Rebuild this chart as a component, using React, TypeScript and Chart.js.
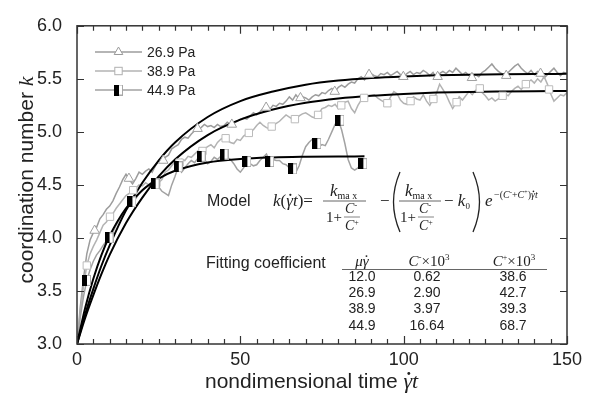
import React, { useEffect, useRef } from 'react';
import { Chart, registerables } from 'chart.js';

Chart.register(...registerables);

const SANS = '"Liberation Sans", Arial, Helvetica, sans-serif';
const SERIF = '"Liberation Serif", "Times New Roman", Times, serif';
const INK = '#222222';

const LEGEND_LABELS = ['26.9 Pa', '38.9 Pa', '44.9 Pa'];
const X_TITLE = 'nondimensional time ';
const Y_TITLE = 'coordination number ';

// time samples (nondimensional time) for the simulated series
const TIME = Array.from({ length: 151 }, (_, i) => i);
const TIME_449 = Array.from({ length: 89 }, (_, i) => i);

// 26.9 Pa series
const K_269 = [
  3.00, 3.35, 3.62, 3.85, 3.98, 4.05, 4.10, 4.18, 4.22, 4.27,
  4.30, 4.35, 4.42, 4.48, 4.55, 4.60, 4.55, 4.51, 4.56, 4.62,
  4.60, 4.63, 4.65, 4.62, 4.68, 4.73, 4.72, 4.76, 4.78, 4.84,
  4.86, 4.88, 4.93, 4.95, 4.94, 4.98, 5.01, 5.03, 5.04, 5.07,
  5.05, 5.06, 5.04, 5.07, 5.05, 5.06, 5.09, 5.07, 5.08, 5.10,
  5.12, 5.13, 5.12, 5.15, 5.18, 5.16, 5.19, 5.22, 5.23, 5.21,
  5.25, 5.24, 5.27, 5.26, 5.29, 5.33, 5.30, 5.35, 5.31, 5.33,
  5.32, 5.30, 5.33, 5.35, 5.34, 5.37, 5.36, 5.39, 5.41, 5.38,
  5.42, 5.44, 5.42, 5.45, 5.47, 5.46, 5.50, 5.52, 5.49, 5.53,
  5.55, 5.53, 5.52, 5.55, 5.54, 5.56, 5.53, 5.55, 5.57, 5.54,
  5.52, 5.55, 5.57, 5.54, 5.56, 5.55, 5.58, 5.56, 5.53, 5.56,
  5.51, 5.55, 5.57, 5.55, 5.58, 5.56, 5.60, 5.57, 5.54, 5.56,
  5.53, 5.51, 5.54, 5.52, 5.56, 5.58, 5.61, 5.64, 5.60, 5.57,
  5.55, 5.52, 5.56, 5.59, 5.62, 5.64, 5.60, 5.57, 5.55, 5.58,
  5.54, 5.57, 5.55, 5.51, 5.54, 5.57, 5.60, 5.56, 5.53, 5.56,
  5.55,
];

// 38.9 Pa series
const K_389 = [
  3.00, 3.30, 3.55, 3.74, 3.85, 3.92, 3.98, 4.05, 4.12, 4.15,
  4.20, 4.23, 4.28, 4.32, 4.36, 4.40, 4.42, 4.45, 4.47, 4.50,
  4.49, 4.52, 4.50, 4.53, 4.52, 4.52, 4.55, 4.62, 4.64, 4.68,
  4.72, 4.70, 4.74, 4.73, 4.77, 4.76, 4.79, 4.82, 4.80, 4.84,
  4.86, 4.88, 4.85, 4.90, 4.93, 4.95, 4.92, 4.90, 4.89, 4.93,
  4.92, 4.96, 4.98, 5.00, 5.02, 5.06, 5.09, 5.06, 5.04, 5.03,
  5.06, 5.08, 5.10, 5.13, 5.16, 5.14, 5.12, 5.12, 5.15, 5.17,
  5.18, 5.16, 5.14, 5.13, 5.17, 5.22, 5.23, 5.25, 5.24, 5.26,
  5.22, 5.25, 5.28, 5.29, 5.22, 5.18, 5.25, 5.30, 5.32, 5.33,
  5.34, 5.35, 5.32, 5.30, 5.28, 5.27, 5.33, 5.38, 5.36, 5.30,
  5.27, 5.26, 5.29, 5.33, 5.31, 5.30, 5.35, 5.29, 5.25, 5.31,
  5.36, 5.45, 5.40, 5.35, 5.28, 5.22, 5.27, 5.33, 5.30, 5.34,
  5.38, 5.35, 5.39, 5.42, 5.37, 5.34, 5.30, 5.32, 5.29, 5.31,
  5.33, 5.36, 5.34, 5.38, 5.41, 5.43, 5.40, 5.44, 5.47, 5.49,
  5.46, 5.50, 5.47, 5.52, 5.45, 5.36, 5.29, 5.32, 5.35, 5.34,
  5.37,
];

// 44.9 Pa series
const K_449 = [
  3.00, 3.25, 3.45, 3.60, 3.70, 3.78, 3.84, 3.88, 3.93, 3.97,
  4.00, 4.06, 4.12, 4.17, 4.22, 4.26, 4.30, 4.33, 4.37, 4.42,
  4.45, 4.48, 4.50, 4.48, 4.52, 4.48, 4.44, 4.42, 4.40, 4.50,
  4.58, 4.67, 4.62, 4.66, 4.70, 4.73, 4.71, 4.75, 4.77, 4.74,
  4.70, 4.72, 4.76, 4.74, 4.77, 4.79, 4.76, 4.74, 4.70, 4.65,
  4.62, 4.66, 4.72, 4.70, 4.68, 4.69, 4.73, 4.76, 4.79, 4.72,
  4.74, 4.73, 4.73, 4.70, 4.69, 4.66, 4.65, 4.62, 4.68, 4.78,
  4.86, 4.90, 4.93, 4.89, 4.86, 4.88, 4.87, 4.93, 5.00, 5.07,
  5.11, 5.02, 4.89, 4.74, 4.66, 4.64, 4.66, 4.70, 4.68,
];

// marker positions
const MARK_269_X = [5.4, 15.9, 26.4, 36.9, 47.4, 57.9, 68.4, 78.9, 89.4, 99.9, 110.4, 120.9, 131.4, 141.9];
const MARK_269_Y = [4.07, 4.56, 4.73, 5.03, 5.07, 5.23, 5.32, 5.38, 5.54, 5.52, 5.52, 5.51, 5.53, 5.55];
const MARK_389_X = [3, 10.1, 17.2, 24.3, 31.4, 38.4, 45.5, 52.6, 59.6, 66.7, 73.8, 80.9, 87.9, 95, 102.1, 109.1, 116.2, 123.3, 130.3, 137.4, 144.5];
const MARK_389_Y = [3.74, 4.20, 4.45, 4.52, 4.71, 4.82, 4.94, 4.99, 5.05, 5.12, 5.16, 5.25, 5.32, 5.27, 5.29, 5.31, 5.28, 5.41, 5.34, 5.45, 5.40];
const MARK_449_X = [2.9, 9.8, 16.8, 23.9, 31, 38, 45, 52, 59, 66, 73.4, 80.5, 87.5];
const MARK_449_Y = [3.60, 4.00, 4.34, 4.51, 4.67, 4.77, 4.79, 4.72, 4.72, 4.65, 4.89, 5.11, 4.70];

// model fit curves
const FIT_X = [0, 2.5, 5, 7.5, 10, 15, 20, 25, 30, 40, 50, 60, 70, 80, 90, 100, 110, 120, 130, 140, 150];
const FIT_269 = [3.0, 3.28, 3.52, 3.74, 3.93, 4.26, 4.52, 4.73, 4.90, 5.14, 5.29, 5.38, 5.445, 5.484, 5.508, 5.523, 5.533, 5.539, 5.543, 5.546, 5.547];
const FIT_389 = [3.0, 3.245, 3.46, 3.66, 3.84, 4.14, 4.38, 4.58, 4.74, 4.97, 5.115, 5.21, 5.274, 5.315, 5.341, 5.358, 5.37, 5.377, 5.381, 5.384, 5.386];
const FIT_X_449 = [0, 2.5, 5, 7.5, 10, 15, 20, 25, 30, 40, 50, 60, 70, 80, 88];
const FIT_449 = [3.0, 3.34, 3.615, 3.84, 4.02, 4.28, 4.45, 4.56, 4.633, 4.712, 4.745, 4.759, 4.765, 4.768, 4.769];

// fitting coefficient table
const TABLE_MU = ['12.0', '26.9', '38.9', '44.9'];
const TABLE_CM = ['0.62', '2.90', '3.97', '16.64'];
const TABLE_CP = ['38.6', '42.7', '39.3', '68.7'];

const C_269 = '#9c9c9c';
const C_389 = '#b3b3b3';
const C_449 = '#a2a2a2';

type Run = { t: string; f: string; dy?: number; dot?: boolean };

function fontSize(f: string): number {
  const m = f.match(/(\d+(\.\d+)?)px/);
  return m ? parseFloat(m[1]) : 12;
}

function runsWidth(ctx: CanvasRenderingContext2D, runs: Run[]): number {
  let w = 0;
  for (const r of runs) {
    ctx.font = r.f;
    w += ctx.measureText(r.t).width;
  }
  return w;
}

function drawRuns(ctx: CanvasRenderingContext2D, x: number, y: number, runs: Run[]): number {
  for (const r of runs) {
    ctx.font = r.f;
    const w = ctx.measureText(r.t).width;
    const yy = y + (r.dy || 0);
    ctx.fillText(r.t, x, yy);
    if (r.dot) {
      const fs = fontSize(r.f);
      ctx.beginPath();
      ctx.arc(x + w * 0.62, yy - fs * 0.66, Math.max(0.8, fs * 0.065), 0, Math.PI * 2);
      ctx.fill();
    }
    x += w;
  }
  return x;
}

function hline(ctx: CanvasRenderingContext2D, x1: number, x2: number, y: number) {
  ctx.beginPath();
  ctx.moveTo(x1, y);
  ctx.lineTo(x2, y);
  ctx.stroke();
}

function makeHalfSquare(): HTMLCanvasElement {
  const c = document.createElement('canvas');
  c.width = 9;
  c.height = 11;
  const g = c.getContext('2d')!;
  g.fillStyle = '#ffffff';
  g.fillRect(0, 0, 9, 11);
  g.strokeStyle = '#a8a8a8';
  g.lineWidth = 1;
  g.strokeRect(0.5, 0.5, 8, 10);
  g.fillStyle = '#000000';
  g.fillRect(0, 0, 5, 11);
  return c;
}

function drawTriangle(ctx: CanvasRenderingContext2D, x: number, y: number, r: number, stroke: string) {
  ctx.beginPath();
  ctx.moveTo(x, y - r);
  ctx.lineTo(x + r * 0.866, y + r * 0.5);
  ctx.lineTo(x - r * 0.866, y + r * 0.5);
  ctx.closePath();
  ctx.fillStyle = '#fff';
  ctx.fill();
  ctx.strokeStyle = stroke;
  ctx.lineWidth = 1;
  ctx.stroke();
}

function drawSquare(ctx: CanvasRenderingContext2D, x: number, y: number, h: number, stroke: string) {
  ctx.fillStyle = '#fff';
  ctx.fillRect(x - h, y - h, 2 * h, 2 * h);
  ctx.strokeStyle = stroke;
  ctx.lineWidth = 1;
  ctx.strokeRect(x - h, y - h, 2 * h, 2 * h);
}

function makeAnnotPlugin(half: HTMLCanvasElement) {
  return {
    id: 'annot',
    afterDraw(chart: any) {
      const ctx: CanvasRenderingContext2D = chart.ctx;
      const a = chart.chartArea;
      const xs = chart.scales.x;
      const ys = chart.scales.y;
      ctx.save();

      // frame
      ctx.strokeStyle = '#333';
      ctx.lineWidth = 1.5;
      ctx.strokeRect(a.left, a.top, a.right - a.left, a.bottom - a.top);

      // inward ticks
      ctx.lineWidth = 1.2;
      for (let i = 0; i <= 30; i++) {
        const v = i * 5;
        const px = Math.round(xs.getPixelForValue(v)) + 0.5;
        const len = v % 50 === 0 ? 8 : 5;
        ctx.beginPath();
        ctx.moveTo(px, a.bottom);
        ctx.lineTo(px, a.bottom - len);
        ctx.moveTo(px, a.top);
        ctx.lineTo(px, a.top + len);
        ctx.stroke();
      }
      for (let i = 0; i <= 6; i++) {
        const v = 3 + i * 0.5;
        const py = Math.round(ys.getPixelForValue(v)) + 0.5;
        ctx.beginPath();
        ctx.moveTo(a.left, py);
        ctx.lineTo(a.left + 7, py);
        ctx.moveTo(a.right, py);
        ctx.lineTo(a.right - 7, py);
        ctx.stroke();
      }

      // legend
      const rows = [52, 71, 90];
      const cols = [C_269, C_389, C_449];
      ctx.lineWidth = 1.5;
      for (let i = 0; i < 3; i++) {
        ctx.strokeStyle = cols[i];
        hline(ctx, 95, 142, rows[i]);
      }
      drawTriangle(ctx, 118.5, rows[0], 5, '#9a9a9a');
      drawSquare(ctx, 118.5, rows[1], 3.7, '#b0b0b0');
      ctx.drawImage(half, 118.5 - 4.5, rows[2] - 5.5);
      ctx.fillStyle = INK;
      ctx.font = `14px ${SANS}`;
      ctx.textAlign = 'left';
      ctx.textBaseline = 'middle';
      for (let i = 0; i < 3; i++) ctx.fillText(LEGEND_LABELS[i], 147, rows[i] + 1);

      ctx.textBaseline = 'alphabetic';
      ctx.fillStyle = INK;
      ctx.strokeStyle = INK;

      // axis titles
      const xt: Run[] = [
        { t: X_TITLE, f: `21px ${SANS}` },
        { t: 'γ', f: `italic 22px ${SERIF}`, dot: true },
        { t: 't', f: `italic 22px ${SERIF}` },
      ];
      drawRuns(ctx, 205, 388, xt);

      const yt: Run[] = [
        { t: Y_TITLE, f: `21px ${SANS}` },
        { t: 'k', f: `italic 22px ${SERIF}` },
      ];
      ctx.save();
      ctx.translate(33, 180);
      ctx.rotate(-Math.PI / 2);
      drawRuns(ctx, -runsWidth(ctx, yt) / 2, 0, yt);
      ctx.restore();

      // Model formula
      ctx.font = `16px ${SANS}`;
      ctx.fillText('Model', 207, 206);
      const it17 = `italic 17px ${SERIF}`;
      const up17 = `17px ${SERIF}`;
      drawRuns(ctx, 273, 206, [
        { t: 'k', f: it17 },
        { t: '(', f: up17 },
        { t: 'γ', f: it17, dot: true },
        { t: 't', f: it17 },
        { t: ')=', f: up17 },
      ]);

      const kmax = (x: number) =>
        drawRuns(ctx, x, 196, [
          { t: 'k', f: it17 },
          { t: 'ma x', f: `10px ${SERIF}`, dy: 3 },
        ]);
      const denom = (x: number) => {
        const x2 = drawRuns(ctx, x, 222, [{ t: '1+', f: `15px ${SERIF}` }]);
        const cx = x2 + 3;
        drawRuns(ctx, cx, 213, [
          { t: 'C', f: `italic 14px ${SERIF}` },
          { t: '-', f: `9px ${SERIF}`, dy: -5 },
        ]);
        drawRuns(ctx, cx, 230, [
          { t: 'C', f: `italic 14px ${SERIF}` },
          { t: '+', f: `8px ${SERIF}`, dy: -5 },
        ]);
        ctx.lineWidth = 0.8;
        ctx.strokeStyle = '#666';
        hline(ctx, cx - 1, cx + 15, 217);
      };

      // first fraction
      kmax(330);
      ctx.lineWidth = 0.9;
      ctx.strokeStyle = '#555';
      hline(ctx, 323, 366, 201);
      denom(326);

      ctx.font = up17;
      ctx.fillText('−', 380, 206);

      // parentheses
      ctx.strokeStyle = '#222';
      ctx.lineWidth = 1.3;
      ctx.beginPath();
      ctx.moveTo(400, 172);
      ctx.quadraticCurveTo(387, 202, 400, 232);
      ctx.stroke();
      ctx.beginPath();
      ctx.moveTo(473, 172);
      ctx.quadraticCurveTo(486, 202, 473, 232);
      ctx.stroke();

      // inner fraction
      kmax(405);
      ctx.lineWidth = 0.9;
      ctx.strokeStyle = '#555';
      hline(ctx, 399, 441, 201);
      denom(400);

      drawRuns(ctx, 444, 206, [
        { t: '−', f: up17 },
        { t: ' k', f: it17 },
        { t: '0', f: `9px ${SERIF}`, dy: 3 },
      ]);

      // exponential
      drawRuns(ctx, 485, 206, [{ t: 'e', f: it17 }]);
      const it10 = `italic 10px ${SERIF}`;
      const up10 = `10px ${SERIF}`;
      drawRuns(ctx, 494, 198, [
        { t: '−(', f: up10 },
        { t: 'C', f: it10 },
        { t: '-', f: `7px ${SERIF}`, dy: -4 },
        { t: '+', f: up10 },
        { t: 'C', f: it10 },
        { t: '+', f: `6px ${SERIF}`, dy: -4 },
        { t: ')', f: up10 },
        { t: 'γ', f: it10, dot: true },
        { t: 't', f: it10 },
      ]);

      // Fitting coefficient table
      ctx.font = `16px ${SANS}`;
      ctx.fillText('Fitting coefficient', 206, 268);

      const it15 = `italic 15px ${SERIF}`;
      const up15 = `15px ${SERIF}`;
      const h1: Run[] = [
        { t: 'μ', f: it15 },
        { t: 'γ', f: it15, dot: true },
      ];
      drawRuns(ctx, 362 - runsWidth(ctx, h1) / 2, 266, h1);
      const h2: Run[] = [
        { t: 'C', f: it15 },
        { t: '-', f: `9px ${SERIF}`, dy: -6 },
        { t: '×10', f: up15 },
        { t: '3', f: `9px ${SERIF}`, dy: -6 },
      ];
      drawRuns(ctx, 429 - runsWidth(ctx, h2) / 2, 266, h2);
      const h3: Run[] = [
        { t: 'C', f: it15 },
        { t: '+', f: `8px ${SERIF}`, dy: -6 },
        { t: '×10', f: up15 },
        { t: '3', f: `9px ${SERIF}`, dy: -6 },
      ];
      drawRuns(ctx, 514 - runsWidth(ctx, h3) / 2, 266, h3);

      ctx.strokeStyle = '#666';
      ctx.lineWidth = 1;
      hline(ctx, 342, 547, 269.5);

      ctx.font = `14px ${SANS}`;
      ctx.textAlign = 'center';
      ctx.textBaseline = 'middle';
      ctx.fillStyle = INK;
      const rowY = [277, 293, 309, 326];
      for (let i = 0; i < TABLE_MU.length; i++) {
        ctx.fillText(TABLE_MU[i], 362, rowY[i]);
        ctx.fillText(TABLE_CM[i], 427, rowY[i]);
        ctx.fillText(TABLE_CP[i], 513, rowY[i]);
      }

      ctx.restore();
    },
  };
}

export default function App() {
  const ref = useRef<HTMLCanvasElement | null>(null);

  useEffect(() => {
    document.body.style.margin = '0';
    const canvas = ref.current;
    if (!canvas) return;
    const half = makeHalfSquare();
    const pts = (xs: number[], ys: number[]) => xs.map((x, i) => ({ x, y: ys[i] }));

    const chart = new Chart(canvas, {
      type: 'line',
      data: {
        datasets: [
          {
            data: pts(MARK_449_X, MARK_449_Y),
            showLine: false,
            pointStyle: half as any,
            pointRadius: 5,
            borderColor: '#000',
            backgroundColor: '#000',
          },
          {
            data: pts(MARK_269_X, MARK_269_Y),
            showLine: false,
            pointStyle: 'triangle',
            pointRadius: 5.5,
            pointBackgroundColor: '#ffffff',
            pointBorderColor: '#a0a0a0',
            pointBorderWidth: 1,
          },
          {
            data: pts(MARK_389_X, MARK_389_Y),
            showLine: false,
            pointStyle: 'rect',
            pointRadius: 5.2,
            pointBackgroundColor: '#ffffff',
            pointBorderColor: '#bbbbbb',
            pointBorderWidth: 1,
          },
          {
            data: pts(FIT_X_449, FIT_449),
            borderColor: '#000',
            borderWidth: 2,
            pointRadius: 0,
            cubicInterpolationMode: 'monotone',
            fill: false,
          },
          {
            data: pts(FIT_X, FIT_269),
            borderColor: '#000',
            borderWidth: 2,
            pointRadius: 0,
            cubicInterpolationMode: 'monotone',
            fill: false,
          },
          {
            data: pts(FIT_X, FIT_389),
            borderColor: '#000',
            borderWidth: 2,
            pointRadius: 0,
            cubicInterpolationMode: 'monotone',
            fill: false,
          },
          {
            data: pts(TIME_449, K_449),
            borderColor: C_449,
            borderWidth: 1.5,
            pointRadius: 0,
            tension: 0,
            fill: false,
          },
          {
            data: pts(TIME, K_389),
            borderColor: C_389,
            borderWidth: 1.5,
            pointRadius: 0,
            tension: 0,
            fill: false,
          },
          {
            data: pts(TIME, K_269),
            borderColor: C_269,
            borderWidth: 1.5,
            pointRadius: 0,
            tension: 0,
            fill: false,
          },
        ],
      },
      options: {
        responsive: false,
        animation: false,
        devicePixelRatio: 1,
        events: [],
        layout: { padding: { top: 16, right: 31, left: 0, bottom: 0 } },
        plugins: {
          legend: { display: false },
          tooltip: { enabled: false },
        },
        scales: {
          x: {
            type: 'linear',
            min: 0,
            max: 150,
            afterFit: (s: any) => {
              s.height = 53;
            },
            grid: { display: false, drawTicks: false },
            border: { display: false },
            ticks: {
              stepSize: 50,
              autoSkip: false,
              maxRotation: 0,
              padding: 5,
              color: INK,
              font: { family: SANS, size: 18 },
            },
          },
          y: {
            type: 'linear',
            min: 3,
            max: 6,
            afterFit: (s: any) => {
              s.width = 77;
            },
            grid: { display: false, drawTicks: false },
            border: { display: false },
            ticks: {
              stepSize: 0.5,
              padding: 15,
              color: INK,
              font: { family: SANS, size: 18 },
              callback: (v: any) => Number(v).toFixed(1),
            },
          },
        },
      },
      plugins: [makeAnnotPlugin(half)],
    } as any);

    return () => chart.destroy();
  }, []);

  return (
    <div style={{ width: 598, height: 397, position: 'relative', background: '#fff' }}>
      <canvas ref={ref} width={598} height={397} style={{ display: 'block' }} />
    </div>
  );
}
